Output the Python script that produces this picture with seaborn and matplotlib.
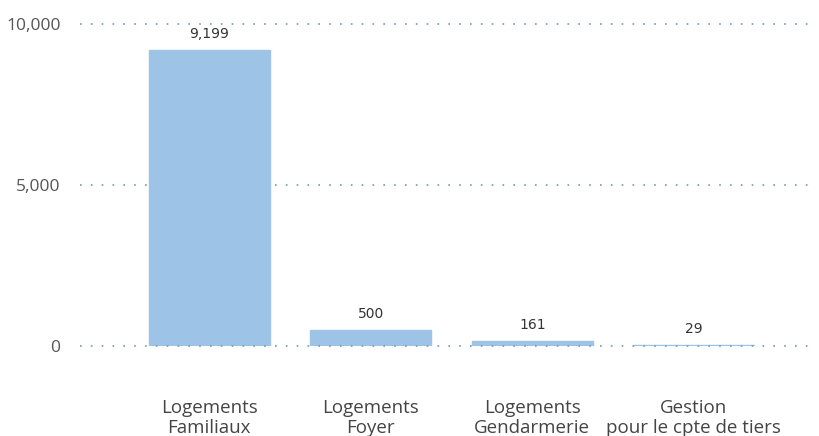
import matplotlib
matplotlib.use("Agg")
import matplotlib.pyplot as plt
import seaborn as sns
import pandas as pd

categories = ["Logements\nFamiliaux", "Logements\nFoyer", "Logements\nGendarmerie", "Gestion\npour le cpte de tiers"]
values = [9199, 500, 161, 29]
value_labels = ["9,199", "500", "161", "29"]
ytick_values = [0, 5000, 10000]
ytick_labels = ["0", "5,000", "10,000"]

df = pd.DataFrame({"cat": categories, "val": values})

sns.set_theme(style="white")
plt.rcParams['font.family'] = ['Open Sans', 'DejaVu Sans']

fig = plt.figure(figsize=(8.19, 4.36), dpi=100)
ax = fig.add_axes([80/819, 1-346/436, (815-80)/819, (346-24)/436])

sns.barplot(data=df, x="cat", y="val", color="#9dc3e6", saturation=1, width=0.75,
            edgecolor="#9dc3e6", linewidth=1, ax=ax, zorder=2)

ax.set_ylim(0, 10000)
ax.set_xlim(-0.80, 3.75)
ax.set_yticks(ytick_values)
ax.set_yticklabels(ytick_labels, fontsize=12.5, color="#555555")
ax.tick_params(axis="x", labelsize=13.5, colors="#444444", pad=38, length=0)
ax.tick_params(axis="y", length=0, pad=14)
for lab in ax.get_xticklabels():
    lab.set_color("#444444")
    lab.set_linespacing(1.15)
ax.set_xlabel("")
ax.set_ylabel("")
for s in ax.spines.values():
    s.set_visible(False)
ax.grid(False)
for yv in ytick_values:
    ax.axhline(yv, color="#6a9fae", linestyle=(0, (1, 5.5)), linewidth=1.2,
               zorder=3 if yv == 0 else 1, clip_on=False)

for i, (v, t) in enumerate(zip(values, value_labels)):
    ax.text(i, v + 280, t, ha="center", va="bottom", fontsize=10, color="#333333",
            family=["DejaVu Sans"], clip_on=False)

fig.savefig("out.png", dpi=100)
